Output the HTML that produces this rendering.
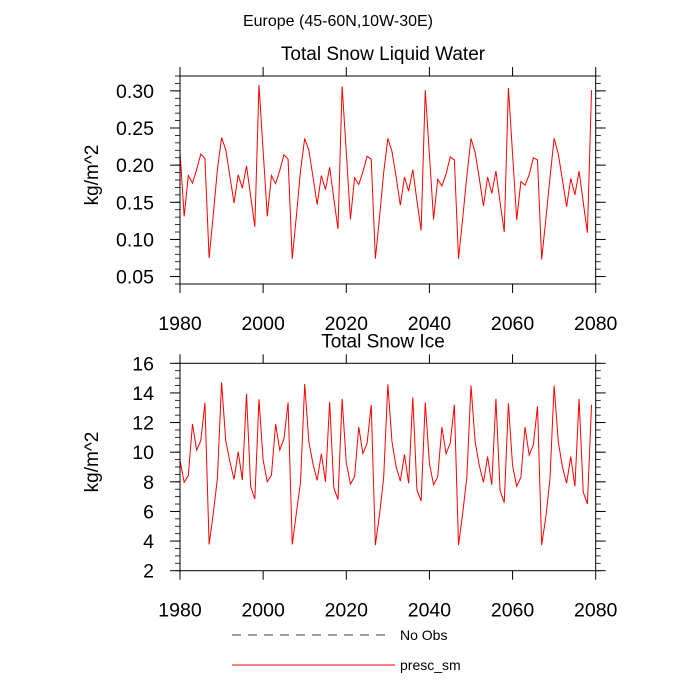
<!DOCTYPE html>
<html><head><meta charset="utf-8"><style>
body{margin:0;background:#fff;}
svg{display:block;font-family:"Liberation Sans",sans-serif;}
</style></head><body>
<svg id="chart" width="700" height="700" viewBox="0 0 700 700" xmlns="http://www.w3.org/2000/svg">
<text x="338" y="26" font-size="16" text-anchor="middle">Europe (45-60N,10W-30E)</text>
<g id="p1"></g>
<g id="p2"></g>
<g>
<line x1="232" y1="635" x2="388" y2="635" stroke="#000" stroke-width="0.8" stroke-dasharray="9,7"/>
<text x="400" y="640" font-size="14">No Obs</text>
<line x1="232" y1="665" x2="395" y2="665" stroke="#f00" stroke-width="1"/>
<text x="400" y="670" font-size="14">presc_sm</text>
</g>
</svg>
<script>
const years = [];
for (let y = 1980; y <= 2079; y++) years.push(y);
const liquidWater = [
.218,.131,.186,.176,.194,.215,.209,.075,.133,.194,
.237,.221,.185,.149,.187,.169,.199,.158,.117,.308,
.219,.131,.186,.175,.193,.214,.208,.074,.132,.193,
.236,.220,.184,.147,.186,.167,.197,.155,.114,.306,
.218,.127,.183,.174,.191,.212,.208,.074,.130,.190,
.236,.218,.184,.146,.184,.165,.194,.152,.112,.301,
.214,.127,.181,.172,.188,.211,.207,.074,.128,.185,
.236,.217,.182,.145,.184,.162,.192,.150,.110,.304,
.215,.126,.178,.173,.187,.210,.207,.073,.127,.183,
.236,.215,.180,.144,.182,.160,.192,.150,.109,.301];
const snowIce = [
9.47,7.96,8.43,11.9,10.14,10.77,13.34,3.77,5.86,8.23,
14.72,10.77,9.36,8.16,10.03,8.12,13.93,7.67,6.83,13.57,
9.47,8.0,8.45,11.9,10.14,10.9,13.36,3.77,5.9,8.0,
14.6,10.7,9.2,8.1,9.9,8.0,13.4,7.6,6.8,13.6,
9.3,7.85,8.35,11.7,9.9,10.6,13.2,3.73,5.8,8.3,
14.58,10.7,9.0,8.05,9.85,7.9,13.7,7.44,6.7,13.36,
9.24,7.8,8.34,11.7,9.9,10.6,13.2,3.73,5.86,8.3,
14.5,10.7,9.1,7.96,9.7,7.8,13.6,7.4,6.6,13.3,
9.1,7.7,8.3,11.7,9.8,10.5,13.1,3.73,5.6,8.2,
14.5,10.7,9.0,7.9,9.7,7.7,13.6,7.3,6.5,13.2];
const xTicks = [1980,2000,2020,2040,2060,2080];
const yTicks1 = [0.05,0.10,0.15,0.20,0.25,0.30];
const yTicks2 = [2,4,6,8,10,12,14,16];

const NS='http://www.w3.org/2000/svg';
function mk(parent, tag, attrs, txt){const e=document.createElementNS(NS,tag);for(const k in attrs)e.setAttribute(k,attrs[k]);if(txt!==undefined)e.textContent=txt;parent.appendChild(e);return e;}

function panel(g, top, bot, ymin, ymax, yticks, minorStep, fmt, title, data, key){
  const L=180, R=595.7;
  const xs=v=>L+(v-1980)/(2080-1980)*(R-L);
  const ys=v=>bot-(v-ymin)/(ymax-ymin)*(bot-top);
  const t=mk(g,'text',{x:383,y:top-16,'font-size':19,'text-anchor':'middle'},title);
  
  
  for(let v=Math.ceil(ymin/minorStep)*minorStep; v<=ymax+1e-9; v+=minorStep){
    const y=ys(v);
    const a=mk(g,'line',{x1:L-5,x2:L,y1:y,y2:y,stroke:'#000','stroke-width':0.8});
    
    
    const b=mk(g,'line',{x1:R,x2:R+5,y1:y,y2:y,stroke:'#000','stroke-width':0.8});
    
    
  }
  yticks.forEach(v=>{
    const y=ys(v);
    const a=mk(g,'line',{x1:L-10,x2:L,y1:y,y2:y,stroke:'#000','stroke-width':1});
    
    
    const b=mk(g,'line',{x1:R,x2:R+10,y1:y,y2:y,stroke:'#000','stroke-width':1});
    
    
    const l=mk(g,'text',{x:154,y:y+7,'font-size':19.5,'text-anchor':'end'},fmt(v));
    
    
  });
  xTicks.forEach(v=>{
    const x=xs(v);
    const a=mk(g,'line',{x1:x,x2:x,y1:bot,y2:bot+9,stroke:'#000','stroke-width':1});
    
    
    const b=mk(g,'line',{x1:x,x2:x,y1:top-9,y2:top,stroke:'#000','stroke-width':1});
    
    
    const l=mk(g,'text',{x:x,y:bot+46,'font-size':19.5,'text-anchor':'middle'},String(v));
    
    
  });
  const yt=mk(g,'text',{x:0,y:0,'font-size':19,'text-anchor':'middle',transform:`translate(98,${(top+bot)/2-5}) rotate(-90)`},'kg/m^2');
  
  
  const pts=data.map((v,i)=>xs(years[i]).toFixed(2)+','+ys(v).toFixed(2)).join(' ');
  const pl=mk(g,'polyline',{points:pts,fill:'none',stroke:'#f00','stroke-width':1});
  
  
  const fr=mk(g,'rect',{x:L,y:top,width:R-L,height:bot-top,fill:'none',stroke:'#000','stroke-width':1});
  
  
}
panel(document.getElementById('p1'),76,284,0.04,0.32,yTicks1,0.01,v=>v.toFixed(2),'Total Snow Liquid Water',liquidWater,'liquid-water');
panel(document.getElementById('p2'),363.3,570.7,2,16,yTicks2,0.5,v=>String(v),'Total Snow Ice',snowIce,'snow-ice');
</script>
</body></html>
